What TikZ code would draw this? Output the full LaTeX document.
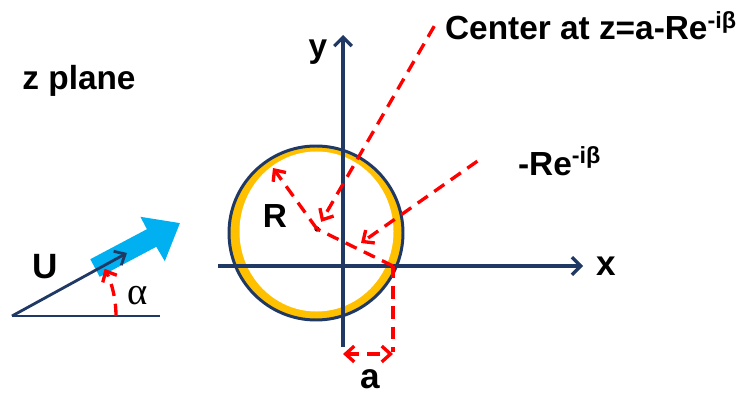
\documentclass[tikz,border=0pt]{standalone}
\usepackage{fontspec}
\setmainfont{Liberation Sans}
\newfontfamily\greekserif{Liberation Serif}
\usetikzlibrary{arrows.meta}
\definecolor{zplaneNavy}{HTML}{1F3864}
\definecolor{zplaneRed}{HTML}{FF0000}
\definecolor{zplaneGold}{HTML}{FFC000}
\definecolor{zplaneBlue}{HTML}{00B0F0}

\tikzset{
  axisline/.style={zplaneNavy,line width=1.9pt,-{Straight Barb[length=5pt,width=10pt]}},
  redline/.style={zplaneRed,line width=1.9pt,dash pattern=on 7pt off 4.5pt},
  redarrow/.style={redline,-{Straight Barb[length=5pt,width=9pt]}},
  lbl/.style={font=\bfseries\fontsize{19}{21}\selectfont,inner sep=1pt},
}

\begin{document}
\begin{tikzpicture}[x=0.02cm,y=-0.02cm]
  \useasboundingbox (0,0) rectangle (748,395);
  % cylinder
  \fill[zplaneGold] (316,233) circle[radius=87];
  \fill[white] (316.5,231.5) ellipse[x radius=77,y radius=80];
  \draw[zplaneNavy,line width=1.7pt] (316,233) circle[radius=87];
  % axes
  \coordinate (xtail) at (218,266);
  \coordinate (xtip) at (583,266);
  \coordinate (ytail) at (343,347);
  \coordinate (ytip) at (343,35);
  \draw[axisline] (xtail) -- (xtip);
  \draw[axisline] (ytail) -- (ytip);
  \node[lbl,font=\bfseries\fontsize{20}{22}\selectfont] (xlabel) at (606,266) {x};
  \node[lbl] (ylabel) at (318,52) {y};
  % uniform flow
  \fill[zplaneBlue] (99.7,276.8) -- (90.3,259.2) -- (146.9,229.2) -- (140.4,216.8)
    -- (179.9,223.1) -- (164.8,261.2) -- (156.3,246.8) -- cycle;
  \coordinate (uorigin) at (12,316);
  \coordinate (utip) at (127,253);
  \coordinate (ubase) at (160,316);
  \draw[zplaneNavy,line width=1.6pt] (uorigin) -- (ubase);
  \draw[zplaneNavy,line width=1.6pt,-{Straight Barb[length=5pt,width=9pt]}] (uorigin) -- (utip);
  \draw[redarrow] (116,316) arc[start angle=0,end angle=-27,radius=104];
  \node[lbl,font=\bfseries\fontsize{20}{22}\selectfont] (ulabel) at (45,267) {U};
  \node[lbl,font=\greekserif\fontsize{22}{24}\selectfont] (alphalabel) at (138,296) {α};
  % center, radius and offset
  \node[circle,fill=black,inner sep=0pt,minimum size=3pt] (ctr) at (317,229) {};
  \coordinate (apt) at (393,266);
  \coordinate (rtip) at (273,168);
  \coordinate (reftip) at (361,243);
  \coordinate (abot) at (393,352);
  \coordinate (adimL) at (343,354);
  \coordinate (adimR) at (393,354);
  \draw[redline] (apt) -- (ctr.center);
  \draw[redarrow] (ctr.center) -- (rtip);
  \draw[redline] (apt) -- (abot);
  \draw[redline,{Straight Barb[length=5pt,width=9pt]}-{Straight Barb[length=5pt,width=9pt]}] (adimL) -- (adimR);
  \node[lbl] (rlabel) at (275,216) {R};
  \node[lbl,font=\bfseries\fontsize{20}{22}\selectfont] (alabel) at (370,379) {a};
  % labels with leaders
  \node[lbl] (zlabel) at (79,81) {z plane};
  \node[lbl,anchor=base west] (centerlabel) at (443,40) {Center at z=a-Re\textsuperscript{-iβ}};
  \node[lbl,anchor=base west] (relabel) at (516,175) {-Re\textsuperscript{-iβ}};
  \draw[redarrow,shorten >=3pt] ([xshift=-5pt]centerlabel.west) -- (ctr);
  \draw[redarrow] ([xshift=-22pt]relabel.west) -- (reftip);
\end{tikzpicture}
\end{document}
